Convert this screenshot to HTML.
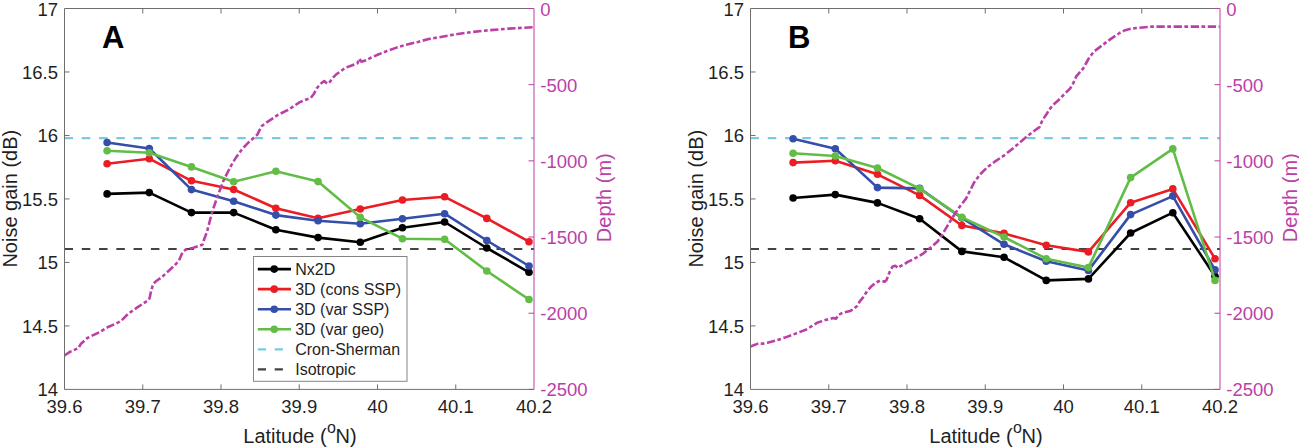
<!DOCTYPE html>
<html><head><meta charset="utf-8"><style>html,body{margin:0;padding:0;background:#fff;width:1299px;height:447px;overflow:hidden}svg{display:block}text{font-family:"Liberation Sans",sans-serif}</style></head>
<body>
<svg width="1299" height="447" viewBox="0 0 1299 447" font-family="'Liberation Sans', sans-serif">
<rect width="1299" height="447" fill="#fff"/>
<line x1="64.5" y1="138.1" x2="534" y2="138.1" stroke="#76cbdc" stroke-width="2.2" stroke-dasharray="8.5 8.78"/>
<line x1="64.5" y1="249" x2="534" y2="249" stroke="#434343" stroke-width="2.1" stroke-dasharray="8.5 8.78"/>
<polyline points="107.1,193.9 149.29,192.6 191.48,212.6 233.67,212.6 275.86,229.8 318.05,237.6 360.24,242.3 402.43,227.8 444.62,222 486.81,248 529,272.3" fill="none" stroke="#000" stroke-width="2.6" stroke-linejoin="round"/>
<circle cx="107.1" cy="193.9" r="3.8" fill="#000"/>
<circle cx="149.29" cy="192.6" r="3.8" fill="#000"/>
<circle cx="191.48" cy="212.6" r="3.8" fill="#000"/>
<circle cx="233.67" cy="212.6" r="3.8" fill="#000"/>
<circle cx="275.86" cy="229.8" r="3.8" fill="#000"/>
<circle cx="318.05" cy="237.6" r="3.8" fill="#000"/>
<circle cx="360.24" cy="242.3" r="3.8" fill="#000"/>
<circle cx="402.43" cy="227.8" r="3.8" fill="#000"/>
<circle cx="444.62" cy="222" r="3.8" fill="#000"/>
<circle cx="486.81" cy="248" r="3.8" fill="#000"/>
<circle cx="529" cy="272.3" r="3.8" fill="#000"/>
<polyline points="107.1,163.7 149.29,158.7 191.48,180.8 233.67,189.5 275.86,208.2 318.05,218.3 360.24,209 402.43,200 444.62,196.8 486.81,218.4 529,241.7" fill="none" stroke="#ec1c24" stroke-width="2.6" stroke-linejoin="round"/>
<circle cx="107.1" cy="163.7" r="3.8" fill="#ec1c24"/>
<circle cx="149.29" cy="158.7" r="3.8" fill="#ec1c24"/>
<circle cx="191.48" cy="180.8" r="3.8" fill="#ec1c24"/>
<circle cx="233.67" cy="189.5" r="3.8" fill="#ec1c24"/>
<circle cx="275.86" cy="208.2" r="3.8" fill="#ec1c24"/>
<circle cx="318.05" cy="218.3" r="3.8" fill="#ec1c24"/>
<circle cx="360.24" cy="209" r="3.8" fill="#ec1c24"/>
<circle cx="402.43" cy="200" r="3.8" fill="#ec1c24"/>
<circle cx="444.62" cy="196.8" r="3.8" fill="#ec1c24"/>
<circle cx="486.81" cy="218.4" r="3.8" fill="#ec1c24"/>
<circle cx="529" cy="241.7" r="3.8" fill="#ec1c24"/>
<polyline points="107.1,142.5 149.29,148.5 191.48,189.6 233.67,201.2 275.86,215.1 318.05,220.8 360.24,223.8 402.43,218.7 444.62,213.7 486.81,240.5 529,266" fill="none" stroke="#344eaa" stroke-width="2.6" stroke-linejoin="round"/>
<circle cx="107.1" cy="142.5" r="3.8" fill="#344eaa"/>
<circle cx="149.29" cy="148.5" r="3.8" fill="#344eaa"/>
<circle cx="191.48" cy="189.6" r="3.8" fill="#344eaa"/>
<circle cx="233.67" cy="201.2" r="3.8" fill="#344eaa"/>
<circle cx="275.86" cy="215.1" r="3.8" fill="#344eaa"/>
<circle cx="318.05" cy="220.8" r="3.8" fill="#344eaa"/>
<circle cx="360.24" cy="223.8" r="3.8" fill="#344eaa"/>
<circle cx="402.43" cy="218.7" r="3.8" fill="#344eaa"/>
<circle cx="444.62" cy="213.7" r="3.8" fill="#344eaa"/>
<circle cx="486.81" cy="240.5" r="3.8" fill="#344eaa"/>
<circle cx="529" cy="266" r="3.8" fill="#344eaa"/>
<polyline points="107.1,150.7 149.29,152.7 191.48,166.9 233.67,181.8 275.86,171.3 318.05,181.6 360.24,217.3 402.43,238.7 444.62,239.2 486.81,271 529,299.5" fill="none" stroke="#62bd47" stroke-width="2.6" stroke-linejoin="round"/>
<circle cx="107.1" cy="150.7" r="3.8" fill="#62bd47"/>
<circle cx="149.29" cy="152.7" r="3.8" fill="#62bd47"/>
<circle cx="191.48" cy="166.9" r="3.8" fill="#62bd47"/>
<circle cx="233.67" cy="181.8" r="3.8" fill="#62bd47"/>
<circle cx="275.86" cy="171.3" r="3.8" fill="#62bd47"/>
<circle cx="318.05" cy="181.6" r="3.8" fill="#62bd47"/>
<circle cx="360.24" cy="217.3" r="3.8" fill="#62bd47"/>
<circle cx="402.43" cy="238.7" r="3.8" fill="#62bd47"/>
<circle cx="444.62" cy="239.2" r="3.8" fill="#62bd47"/>
<circle cx="486.81" cy="271" r="3.8" fill="#62bd47"/>
<circle cx="529" cy="299.5" r="3.8" fill="#62bd47"/>
<polyline points="64.5,355.5 70.3,351.7 78.3,348.2 81,343.7 87.3,338 99.8,332 108.7,326.7 115.9,323.6 120.8,321.2 128,314 136.9,307.7 147.7,300.6 149.5,298.4 151.1,290.9 153.3,283.7 156,281.3 162,277 168.2,271.3 174,266 179.1,260.4 182.4,252.4 185.5,249.7 192.6,247.9 202.5,244.7 204.3,238.9 207,231.8 212,212.6 217.4,196.5 223.6,180.4 230.8,166.1 236.2,157.2 242.2,148.9 249.3,141.7 257.4,134.6 261.5,126.2 266.3,122.6 278,114.9 288.7,109.5 299.4,102.4 305,100.1 310.9,97.8 313.6,94.3 316.7,88.4 320.7,83.7 324.2,81 327.3,83.7 330,81.7 332.8,77.8 336.3,74.3 341.8,70.4 344.7,68.1 351,65.7 357.5,63.2 359.2,58.6 361.5,61.8 365.8,60.3 371.3,57.5 377.6,54.8 385.7,51.5 396.5,47.6 407.2,44.4 418,41.9 428.7,39 439.4,37.2 455,34.4 472.9,31.9 490.8,30.1 508.7,28.6 534,27.2" fill="none" stroke="#bb3fa6" stroke-width="2.6" stroke-dasharray="8.3 2.5 3.7 2.6" stroke-linejoin="round"/>
<line x1="64.5" y1="8.5" x2="534" y2="8.5" stroke="#6e6e6e" stroke-width="1"/>
<line x1="64.5" y1="389.4" x2="534" y2="389.4" stroke="#6e6e6e" stroke-width="1"/>
<line x1="64.5" y1="8.5" x2="64.5" y2="389.4" stroke="#6e6e6e" stroke-width="1"/>
<line x1="534" y1="8.5" x2="534" y2="389.4" stroke="#bb3fa6" stroke-width="1"/>
<text x="64.5" y="412.9" text-anchor="middle" font-size="18.5" fill="#1f1f1f">39.6</text>
<line x1="142.75" y1="389.4" x2="142.75" y2="384.4" stroke="#6e6e6e" stroke-width="1"/>
<line x1="142.75" y1="8.5" x2="142.75" y2="13.5" stroke="#6e6e6e" stroke-width="1"/>
<text x="142.75" y="412.9" text-anchor="middle" font-size="18.5" fill="#1f1f1f">39.7</text>
<line x1="221" y1="389.4" x2="221" y2="384.4" stroke="#6e6e6e" stroke-width="1"/>
<line x1="221" y1="8.5" x2="221" y2="13.5" stroke="#6e6e6e" stroke-width="1"/>
<text x="221" y="412.9" text-anchor="middle" font-size="18.5" fill="#1f1f1f">39.8</text>
<line x1="299.25" y1="389.4" x2="299.25" y2="384.4" stroke="#6e6e6e" stroke-width="1"/>
<line x1="299.25" y1="8.5" x2="299.25" y2="13.5" stroke="#6e6e6e" stroke-width="1"/>
<text x="299.25" y="412.9" text-anchor="middle" font-size="18.5" fill="#1f1f1f">39.9</text>
<line x1="377.5" y1="389.4" x2="377.5" y2="384.4" stroke="#6e6e6e" stroke-width="1"/>
<line x1="377.5" y1="8.5" x2="377.5" y2="13.5" stroke="#6e6e6e" stroke-width="1"/>
<text x="377.5" y="412.9" text-anchor="middle" font-size="18.5" fill="#1f1f1f">40</text>
<line x1="455.75" y1="389.4" x2="455.75" y2="384.4" stroke="#6e6e6e" stroke-width="1"/>
<line x1="455.75" y1="8.5" x2="455.75" y2="13.5" stroke="#6e6e6e" stroke-width="1"/>
<text x="455.75" y="412.9" text-anchor="middle" font-size="18.5" fill="#1f1f1f">40.1</text>
<text x="534" y="412.9" text-anchor="middle" font-size="18.5" fill="#1f1f1f">40.2</text>
<text x="58" y="396.4" text-anchor="end" font-size="18.5" fill="#1f1f1f">14</text>
<line x1="64.5" y1="325.92" x2="69.5" y2="325.92" stroke="#6e6e6e" stroke-width="1"/>
<text x="58" y="332.92" text-anchor="end" font-size="18.5" fill="#1f1f1f">14.5</text>
<line x1="64.5" y1="262.43" x2="69.5" y2="262.43" stroke="#6e6e6e" stroke-width="1"/>
<text x="58" y="269.43" text-anchor="end" font-size="18.5" fill="#1f1f1f">15</text>
<line x1="64.5" y1="198.95" x2="69.5" y2="198.95" stroke="#6e6e6e" stroke-width="1"/>
<text x="58" y="205.95" text-anchor="end" font-size="18.5" fill="#1f1f1f">15.5</text>
<line x1="64.5" y1="135.47" x2="69.5" y2="135.47" stroke="#6e6e6e" stroke-width="1"/>
<text x="58" y="142.47" text-anchor="end" font-size="18.5" fill="#1f1f1f">16</text>
<line x1="64.5" y1="71.98" x2="69.5" y2="71.98" stroke="#6e6e6e" stroke-width="1"/>
<text x="58" y="78.98" text-anchor="end" font-size="18.5" fill="#1f1f1f">16.5</text>
<text x="58" y="15.5" text-anchor="end" font-size="18.5" fill="#1f1f1f">17</text>
<line x1="534" y1="8.5" x2="528.5" y2="8.5" stroke="#bb3fa6" stroke-width="1"/>
<text x="540.3" y="15.5" font-size="18.5" fill="#bb3fa6">0</text>
<line x1="534" y1="84.68" x2="528.5" y2="84.68" stroke="#bb3fa6" stroke-width="1"/>
<text x="540.3" y="91.68" font-size="18.5" fill="#bb3fa6">-500</text>
<line x1="534" y1="160.86" x2="528.5" y2="160.86" stroke="#bb3fa6" stroke-width="1"/>
<text x="540.3" y="167.86" font-size="18.5" fill="#bb3fa6">-1000</text>
<line x1="534" y1="237.04" x2="528.5" y2="237.04" stroke="#bb3fa6" stroke-width="1"/>
<text x="540.3" y="244.04" font-size="18.5" fill="#bb3fa6">-1500</text>
<line x1="534" y1="313.22" x2="528.5" y2="313.22" stroke="#bb3fa6" stroke-width="1"/>
<text x="540.3" y="320.22" font-size="18.5" fill="#bb3fa6">-2000</text>
<line x1="534" y1="389.4" x2="528.5" y2="389.4" stroke="#bb3fa6" stroke-width="1"/>
<text x="540.3" y="396.4" font-size="18.5" fill="#bb3fa6">-2500</text>
<text x="243.3" y="442.8" font-size="20" fill="#1f1f1f">Latitude (</text>
<text x="327" y="433" font-size="16" fill="#1f1f1f">o</text>
<text x="335.5" y="442.8" font-size="20" fill="#1f1f1f">N)</text>
<text transform="translate(17.2,198.7) rotate(-90)" text-anchor="middle" font-size="20" fill="#1f1f1f">Noise gain (dB)</text>
<text transform="translate(610.5,197.7) rotate(-90)" text-anchor="middle" font-size="20" fill="#bb3fa6">Depth (m)</text>
<text x="102.1" y="47.5" font-size="31" font-weight="bold" fill="#000">A</text>
<rect x="253.5" y="256.5" width="153.5" height="124.8" fill="#fff" stroke="#858585" stroke-width="1"/>
<line x1="257.8" y1="269.1" x2="291" y2="269.1" stroke="#000" stroke-width="2.6"/>
<circle cx="274.2" cy="269.1" r="3.8" fill="#000"/>
<text x="295.2" y="274.6" font-size="16" fill="#1f1f1f">Nx2D</text>
<line x1="257.8" y1="289.15" x2="291" y2="289.15" stroke="#ec1c24" stroke-width="2.6"/>
<circle cx="274.2" cy="289.15" r="3.8" fill="#ec1c24"/>
<text x="295.2" y="294.65" font-size="16" fill="#1f1f1f">3D (cons SSP)</text>
<line x1="257.8" y1="309.2" x2="291" y2="309.2" stroke="#344eaa" stroke-width="2.6"/>
<circle cx="274.2" cy="309.2" r="3.8" fill="#344eaa"/>
<text x="295.2" y="314.7" font-size="16" fill="#1f1f1f">3D (var SSP)</text>
<line x1="257.8" y1="329.25" x2="291" y2="329.25" stroke="#62bd47" stroke-width="2.6"/>
<circle cx="274.2" cy="329.25" r="3.8" fill="#62bd47"/>
<text x="295.2" y="334.75" font-size="16" fill="#1f1f1f">3D (var geo)</text>
<line x1="257.8" y1="349.3" x2="291" y2="349.3" stroke="#76cbdc" stroke-width="2.3" stroke-dasharray="8.2 8.7"/>
<text x="295.2" y="354.8" font-size="16" fill="#1f1f1f">Cron-Sherman</text>
<line x1="257.8" y1="369.35" x2="291" y2="369.35" stroke="#434343" stroke-width="2.3" stroke-dasharray="8.2 8.7"/>
<text x="295.2" y="374.85" font-size="16" fill="#1f1f1f">Isotropic</text>
<line x1="750.5" y1="138.1" x2="1220" y2="138.1" stroke="#76cbdc" stroke-width="2.2" stroke-dasharray="8.5 8.78"/>
<line x1="750.5" y1="249" x2="1220" y2="249" stroke="#434343" stroke-width="2.1" stroke-dasharray="8.5 8.78"/>
<polyline points="793.1,198 835.29,194.6 877.48,202.9 919.67,218.7 961.86,251.4 1004.05,257.3 1046.24,280.4 1088.43,278.9 1130.62,233 1172.81,212.7 1215,276.2" fill="none" stroke="#000" stroke-width="2.6" stroke-linejoin="round"/>
<circle cx="793.1" cy="198" r="3.8" fill="#000"/>
<circle cx="835.29" cy="194.6" r="3.8" fill="#000"/>
<circle cx="877.48" cy="202.9" r="3.8" fill="#000"/>
<circle cx="919.67" cy="218.7" r="3.8" fill="#000"/>
<circle cx="961.86" cy="251.4" r="3.8" fill="#000"/>
<circle cx="1004.05" cy="257.3" r="3.8" fill="#000"/>
<circle cx="1046.24" cy="280.4" r="3.8" fill="#000"/>
<circle cx="1088.43" cy="278.9" r="3.8" fill="#000"/>
<circle cx="1130.62" cy="233" r="3.8" fill="#000"/>
<circle cx="1172.81" cy="212.7" r="3.8" fill="#000"/>
<circle cx="1215" cy="276.2" r="3.8" fill="#000"/>
<polyline points="793.1,162.6 835.29,160.7 877.48,174.3 919.67,195.4 961.86,225.5 1004.05,233.4 1046.24,245.2 1088.43,251.9 1130.62,202.7 1172.81,188.9 1215,258.7" fill="none" stroke="#ec1c24" stroke-width="2.6" stroke-linejoin="round"/>
<circle cx="793.1" cy="162.6" r="3.8" fill="#ec1c24"/>
<circle cx="835.29" cy="160.7" r="3.8" fill="#ec1c24"/>
<circle cx="877.48" cy="174.3" r="3.8" fill="#ec1c24"/>
<circle cx="919.67" cy="195.4" r="3.8" fill="#ec1c24"/>
<circle cx="961.86" cy="225.5" r="3.8" fill="#ec1c24"/>
<circle cx="1004.05" cy="233.4" r="3.8" fill="#ec1c24"/>
<circle cx="1046.24" cy="245.2" r="3.8" fill="#ec1c24"/>
<circle cx="1088.43" cy="251.9" r="3.8" fill="#ec1c24"/>
<circle cx="1130.62" cy="202.7" r="3.8" fill="#ec1c24"/>
<circle cx="1172.81" cy="188.9" r="3.8" fill="#ec1c24"/>
<circle cx="1215" cy="258.7" r="3.8" fill="#ec1c24"/>
<polyline points="793.1,138.8 835.29,148.8 877.48,187.6 919.67,188.4 961.86,218 1004.05,244.3 1046.24,261.3 1088.43,270.4 1130.62,214.6 1172.81,196.1 1215,269.9" fill="none" stroke="#344eaa" stroke-width="2.6" stroke-linejoin="round"/>
<circle cx="793.1" cy="138.8" r="3.8" fill="#344eaa"/>
<circle cx="835.29" cy="148.8" r="3.8" fill="#344eaa"/>
<circle cx="877.48" cy="187.6" r="3.8" fill="#344eaa"/>
<circle cx="919.67" cy="188.4" r="3.8" fill="#344eaa"/>
<circle cx="961.86" cy="218" r="3.8" fill="#344eaa"/>
<circle cx="1004.05" cy="244.3" r="3.8" fill="#344eaa"/>
<circle cx="1046.24" cy="261.3" r="3.8" fill="#344eaa"/>
<circle cx="1088.43" cy="270.4" r="3.8" fill="#344eaa"/>
<circle cx="1130.62" cy="214.6" r="3.8" fill="#344eaa"/>
<circle cx="1172.81" cy="196.1" r="3.8" fill="#344eaa"/>
<circle cx="1215" cy="269.9" r="3.8" fill="#344eaa"/>
<polyline points="793.1,153.2 835.29,156 877.48,168 919.67,188.7 961.86,217.4 1004.05,237 1046.24,258.7 1088.43,267.6 1130.62,177.6 1172.81,148.9 1215,280.4" fill="none" stroke="#62bd47" stroke-width="2.6" stroke-linejoin="round"/>
<circle cx="793.1" cy="153.2" r="3.8" fill="#62bd47"/>
<circle cx="835.29" cy="156" r="3.8" fill="#62bd47"/>
<circle cx="877.48" cy="168" r="3.8" fill="#62bd47"/>
<circle cx="919.67" cy="188.7" r="3.8" fill="#62bd47"/>
<circle cx="961.86" cy="217.4" r="3.8" fill="#62bd47"/>
<circle cx="1004.05" cy="237" r="3.8" fill="#62bd47"/>
<circle cx="1046.24" cy="258.7" r="3.8" fill="#62bd47"/>
<circle cx="1088.43" cy="267.6" r="3.8" fill="#62bd47"/>
<circle cx="1130.62" cy="177.6" r="3.8" fill="#62bd47"/>
<circle cx="1172.81" cy="148.9" r="3.8" fill="#62bd47"/>
<circle cx="1215" cy="280.4" r="3.8" fill="#62bd47"/>
<polyline points="750.5,346.5 758,343.6 763.4,343.6 767.4,342.7 776.8,340.3 784.9,337.6 795.6,333.6 806.4,329.5 811.7,326.2 817.1,322.8 825.2,320.1 833.2,318.1 835.9,318.8 838.6,314.8 842.6,312.8 850,311 853.1,309.4 857.1,306 859.8,301.3 863.1,297.3 867.1,291.2 871.8,285.9 875.9,282.5 880.6,280.5 884.6,281.8 886.6,279.8 888.6,274.5 890.6,269.8 892.7,266.4 895.3,265.7 898,268 900,266.4 904.1,264.4 907.8,261.9 915.7,258 923.5,253.3 931.3,247 937.6,241.5 942.3,234.5 947,226.6 951.7,218.8 955.5,213 959.5,207 966,198.6 970.1,190.5 974.1,182.5 980.1,174.4 987.2,167.4 995.2,161.3 1004.3,155.3 1014.4,147.2 1022.4,140.2 1028.5,135.2 1034,131 1039.5,127.1 1042.5,120.1 1046.6,114 1049.1,109.8 1053,105 1058.1,100.5 1064,94.5 1070.2,88.4 1073.2,83.4 1076.3,76.3 1083.3,68.3 1086.5,62.5 1089.4,57.2 1094.4,51.2 1102.5,45.1 1110.5,39.1 1119.6,33 1125.1,30.2 1131.8,28.5 1142.6,27.5 1152,26.6 1219.5,26.6" fill="none" stroke="#bb3fa6" stroke-width="2.6" stroke-dasharray="8.3 2.5 3.7 2.6" stroke-linejoin="round"/>
<line x1="750.5" y1="8.5" x2="1220" y2="8.5" stroke="#6e6e6e" stroke-width="1"/>
<line x1="750.5" y1="389.4" x2="1220" y2="389.4" stroke="#6e6e6e" stroke-width="1"/>
<line x1="750.5" y1="8.5" x2="750.5" y2="389.4" stroke="#6e6e6e" stroke-width="1"/>
<line x1="1220" y1="8.5" x2="1220" y2="389.4" stroke="#bb3fa6" stroke-width="1"/>
<text x="750.5" y="412.9" text-anchor="middle" font-size="18.5" fill="#1f1f1f">39.6</text>
<line x1="828.75" y1="389.4" x2="828.75" y2="384.4" stroke="#6e6e6e" stroke-width="1"/>
<line x1="828.75" y1="8.5" x2="828.75" y2="13.5" stroke="#6e6e6e" stroke-width="1"/>
<text x="828.75" y="412.9" text-anchor="middle" font-size="18.5" fill="#1f1f1f">39.7</text>
<line x1="907" y1="389.4" x2="907" y2="384.4" stroke="#6e6e6e" stroke-width="1"/>
<line x1="907" y1="8.5" x2="907" y2="13.5" stroke="#6e6e6e" stroke-width="1"/>
<text x="907" y="412.9" text-anchor="middle" font-size="18.5" fill="#1f1f1f">39.8</text>
<line x1="985.25" y1="389.4" x2="985.25" y2="384.4" stroke="#6e6e6e" stroke-width="1"/>
<line x1="985.25" y1="8.5" x2="985.25" y2="13.5" stroke="#6e6e6e" stroke-width="1"/>
<text x="985.25" y="412.9" text-anchor="middle" font-size="18.5" fill="#1f1f1f">39.9</text>
<line x1="1063.5" y1="389.4" x2="1063.5" y2="384.4" stroke="#6e6e6e" stroke-width="1"/>
<line x1="1063.5" y1="8.5" x2="1063.5" y2="13.5" stroke="#6e6e6e" stroke-width="1"/>
<text x="1063.5" y="412.9" text-anchor="middle" font-size="18.5" fill="#1f1f1f">40</text>
<line x1="1141.75" y1="389.4" x2="1141.75" y2="384.4" stroke="#6e6e6e" stroke-width="1"/>
<line x1="1141.75" y1="8.5" x2="1141.75" y2="13.5" stroke="#6e6e6e" stroke-width="1"/>
<text x="1141.75" y="412.9" text-anchor="middle" font-size="18.5" fill="#1f1f1f">40.1</text>
<text x="1220" y="412.9" text-anchor="middle" font-size="18.5" fill="#1f1f1f">40.2</text>
<text x="744" y="396.4" text-anchor="end" font-size="18.5" fill="#1f1f1f">14</text>
<line x1="750.5" y1="325.92" x2="755.5" y2="325.92" stroke="#6e6e6e" stroke-width="1"/>
<text x="744" y="332.92" text-anchor="end" font-size="18.5" fill="#1f1f1f">14.5</text>
<line x1="750.5" y1="262.43" x2="755.5" y2="262.43" stroke="#6e6e6e" stroke-width="1"/>
<text x="744" y="269.43" text-anchor="end" font-size="18.5" fill="#1f1f1f">15</text>
<line x1="750.5" y1="198.95" x2="755.5" y2="198.95" stroke="#6e6e6e" stroke-width="1"/>
<text x="744" y="205.95" text-anchor="end" font-size="18.5" fill="#1f1f1f">15.5</text>
<line x1="750.5" y1="135.47" x2="755.5" y2="135.47" stroke="#6e6e6e" stroke-width="1"/>
<text x="744" y="142.47" text-anchor="end" font-size="18.5" fill="#1f1f1f">16</text>
<line x1="750.5" y1="71.98" x2="755.5" y2="71.98" stroke="#6e6e6e" stroke-width="1"/>
<text x="744" y="78.98" text-anchor="end" font-size="18.5" fill="#1f1f1f">16.5</text>
<text x="744" y="15.5" text-anchor="end" font-size="18.5" fill="#1f1f1f">17</text>
<line x1="1220" y1="8.5" x2="1214.5" y2="8.5" stroke="#bb3fa6" stroke-width="1"/>
<text x="1226.3" y="15.5" font-size="18.5" fill="#bb3fa6">0</text>
<line x1="1220" y1="84.68" x2="1214.5" y2="84.68" stroke="#bb3fa6" stroke-width="1"/>
<text x="1226.3" y="91.68" font-size="18.5" fill="#bb3fa6">-500</text>
<line x1="1220" y1="160.86" x2="1214.5" y2="160.86" stroke="#bb3fa6" stroke-width="1"/>
<text x="1226.3" y="167.86" font-size="18.5" fill="#bb3fa6">-1000</text>
<line x1="1220" y1="237.04" x2="1214.5" y2="237.04" stroke="#bb3fa6" stroke-width="1"/>
<text x="1226.3" y="244.04" font-size="18.5" fill="#bb3fa6">-1500</text>
<line x1="1220" y1="313.22" x2="1214.5" y2="313.22" stroke="#bb3fa6" stroke-width="1"/>
<text x="1226.3" y="320.22" font-size="18.5" fill="#bb3fa6">-2000</text>
<line x1="1220" y1="389.4" x2="1214.5" y2="389.4" stroke="#bb3fa6" stroke-width="1"/>
<text x="1226.3" y="396.4" font-size="18.5" fill="#bb3fa6">-2500</text>
<text x="929.3" y="442.8" font-size="20" fill="#1f1f1f">Latitude (</text>
<text x="1013" y="433" font-size="16" fill="#1f1f1f">o</text>
<text x="1021.5" y="442.8" font-size="20" fill="#1f1f1f">N)</text>
<text transform="translate(703.2,198.7) rotate(-90)" text-anchor="middle" font-size="20" fill="#1f1f1f">Noise gain (dB)</text>
<text transform="translate(1296.5,197.7) rotate(-90)" text-anchor="middle" font-size="20" fill="#bb3fa6">Depth (m)</text>
<text x="788.1" y="47.5" font-size="31" font-weight="bold" fill="#000">B</text>
</svg>
</body></html>
